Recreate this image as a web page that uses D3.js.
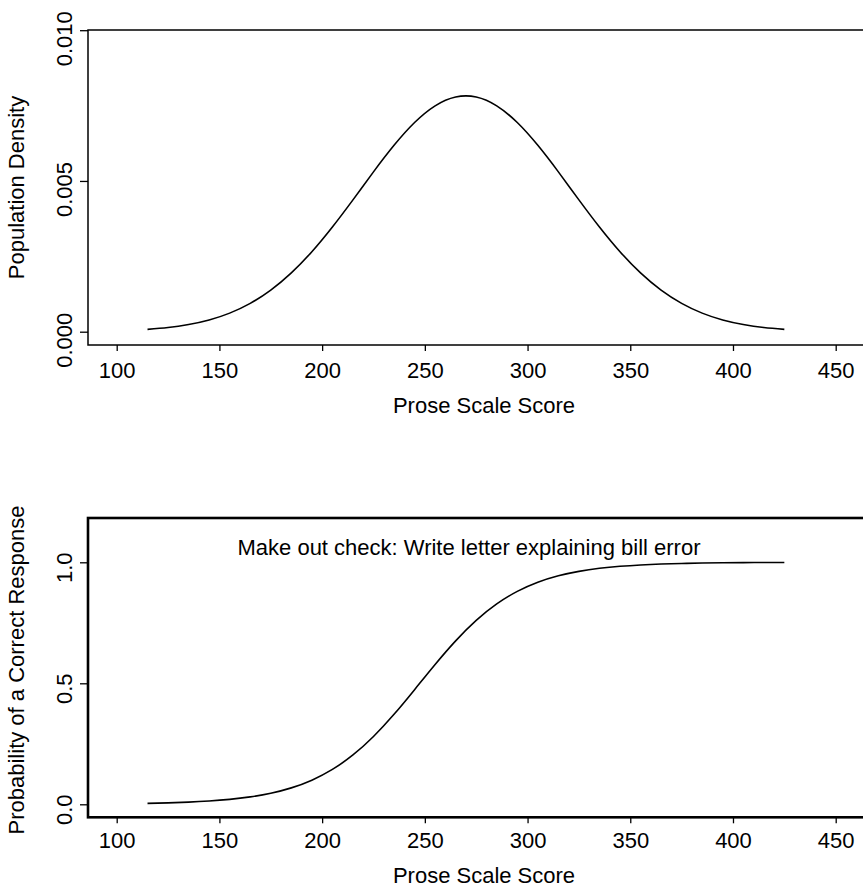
<!DOCTYPE html>
<html>
<head>
<meta charset="utf-8">
<script src="https://cdn.jsdelivr.net/npm/d3@7"></script>
<style>
  html, body { margin: 0; padding: 0; background: #fff; }
  svg { display: block; font-family: "Liberation Sans", Arial, Helvetica, sans-serif; }
</style>
</head>
<body>
<svg id="chart" width="863" height="889"></svg>
<script>
// Score grid shared by both curves
const scores = [115, 125, 135, 145, 155, 165, 175, 185, 195, 205, 215, 225, 235, 245, 255, 265,
                275, 285, 295, 305, 315, 325, 335, 345, 355, 365, 375, 385, 395, 405, 415, 425];

// Population density of prose scale scores
const density = [0.0000773, 0.000137, 0.000236, 0.000388, 0.000616, 0.000940, 0.001380, 0.001951,
                 0.002653, 0.003473, 0.004373, 0.005301, 0.006181, 0.006937, 0.007491, 0.007784,
                 0.007784, 0.007491, 0.006937, 0.006181, 0.005301, 0.004373, 0.003473, 0.002653,
                 0.001951, 0.001380, 0.000940, 0.000616, 0.000388, 0.000236, 0.000137, 0.0000773];

// Probability of a correct response to the task
const probability = [0.0039, 0.0059, 0.0089, 0.0135, 0.0203, 0.0306, 0.0457, 0.0679,
                     0.0998, 0.1442, 0.2039, 0.2803, 0.3719, 0.4738, 0.5779, 0.6754,
                     0.7599, 0.8279, 0.8797, 0.9175, 0.9442, 0.9626, 0.9751, 0.9835,
                     0.9891, 0.9928, 0.9952, 0.9969, 0.9979, 0.9986, 0.9991, 0.9994];

const xTicks = [100, 150, 200, 250, 300, 350, 400, 450];
const densityTicks = [0, 0.005, 0.010];
const probabilityTicks = [0, 0.5, 1.0];

const taskTitle = "Make out check: Write letter explaining bill error";
const xTitle = "Prose Scale Score";
const densityTitle = "Population Density";
const probabilityTitle = "Probability of a Correct Response";

const svg = d3.select("#chart");
const FONT = 22;

const x = d3.scaleLinear().domain([100, 450]).range([116.7, 835.7]);

function panel(cfg) {
  const { top, bottom, left, right, y, yTicks, yFmt, yLabelShift, values, stroke, xPad, yTitle } = cfg;
  const g = svg.append("g");

  // Frame (right edge runs past the canvas)
  g.append("rect")
    .attr("x", left).attr("y", top)
    .attr("width", right - left).attr("height", bottom - top)
    .attr("fill", "none").attr("stroke", "#000").attr("stroke-width", stroke);

  // Curve
  const line = d3.line()
    .x((d, i) => x(scores[i]))
    .y(d => y(d))
    .curve(d3.curveNatural);
  g.append("path")
    .datum(values)
    .attr("d", line)
    .attr("fill", "none").attr("stroke", "#000").attr("stroke-width", 1.6);

  // Bottom axis
  const xa = g.append("g")
    .attr("transform", `translate(0,${bottom})`)
    .call(d3.axisBottom(x).tickValues(xTicks).tickSize(6).tickPadding(xPad).tickFormat(d3.format("d")));
  xa.select(".domain").remove();
  xa.selectAll("line").attr("stroke", "#000").attr("stroke-width", 1.3);
  xa.selectAll("text").attr("font-size", FONT).attr("fill", "#000").attr("font-family", null);

  // Left axis with rotated labels
  const ya = g.append("g")
    .attr("transform", `translate(${left},0)`)
    .call(d3.axisLeft(y).tickValues(yTicks).tickSize(8).tickFormat(d3.format(yFmt)));
  ya.select(".domain").remove();
  ya.selectAll("line").attr("stroke", "#000").attr("stroke-width", 1.3);
  ya.selectAll("text")
    .attr("x", null).attr("dy", null)
    .attr("text-anchor", "middle")
    .attr("transform", `translate(-16,${yLabelShift}) rotate(-90)`)
    .attr("font-size", FONT).attr("fill", "#000").attr("font-family", null);

  // Axis titles
  g.append("text")
    .attr("x", 484).attr("y", cfg.xTitleY)
    .attr("text-anchor", "middle").attr("font-size", FONT)
    .text(xTitle);
  g.append("text")
    .attr("transform", `translate(24,${cfg.yTitleY}) rotate(-90)`)
    .attr("text-anchor", "middle").attr("font-size", FONT)
    .text(yTitle);
  return g;
}

// Upper panel: population density
const yDensity = d3.scaleLinear().domain([0, 0.010]).range([331.7, 30.2]);
panel({
  top: 30, bottom: 345, left: 88, right: 880,
  y: yDensity, yTicks: densityTicks, yFmt: ".3f", yLabelShift: 8,
  values: density, stroke: 1.5, xPad: 11, xTitleY: 413, yTitle: densityTitle, yTitleY: 187.5
});

// Lower panel: item characteristic curve
const yProb = d3.scaleLinear().domain([0, 1]).range([804.3, 562.3]);
const lower = panel({
  top: 518, bottom: 817.3, left: 88, right: 880,
  y: yProb, yTicks: probabilityTicks, yFmt: ".1f", yLabelShift: 5,
  values: probability, stroke: 2.6, xPad: 9, xTitleY: 883, yTitle: probabilityTitle, yTitleY: 670
});
lower.append("text")
  .attr("x", 469).attr("y", 555)
  .attr("text-anchor", "middle").attr("font-size", FONT)
  .text(taskTitle);
</script>
</body>
</html>
